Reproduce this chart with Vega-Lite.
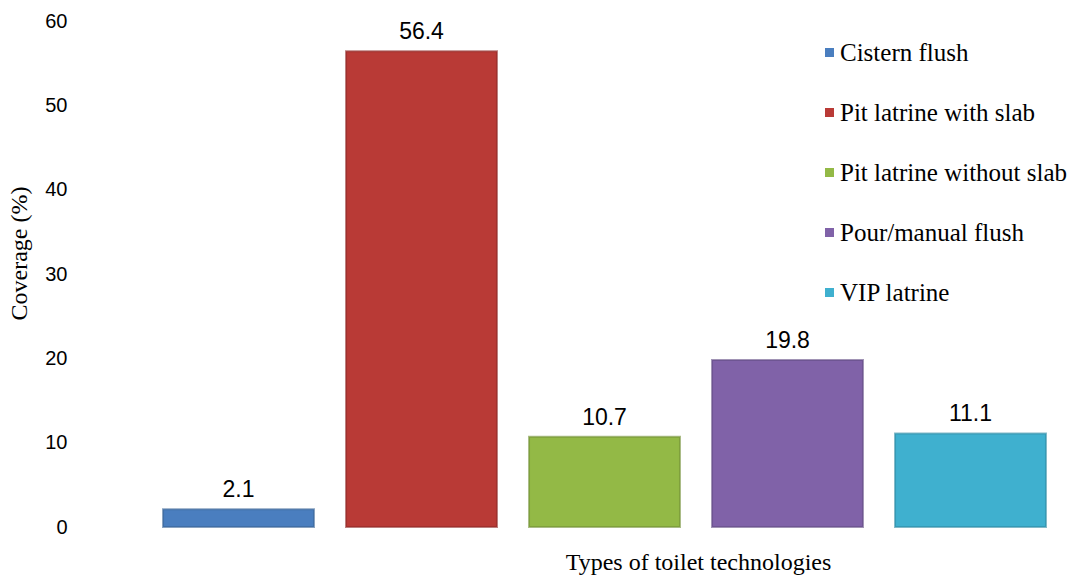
{
  "$schema": "https://vega.github.io/schema/vega-lite/v6.json",
  "autosize": {"type": "none"},
  "padding": {"left": 147, "top": 21, "right": 16, "bottom": 48},
  "width": 915,
  "height": 506,
  "background": "white",
  "config": {"view": {"stroke": null}},
  "data": {
    "values": [
      {"type": "Cistern flush", "coverage": 2.1},
      {"type": "Pit latrine with slab", "coverage": 56.4},
      {"type": "Pit latrine without slab", "coverage": 10.7},
      {"type": "Pour/manual flush", "coverage": 19.8},
      {"type": "VIP latrine", "coverage": 11.1}
    ]
  },
  "encoding": {
    "x": {
      "field": "type", "type": "nominal", "sort": null,
      "scale": {"paddingInner": 0.175, "paddingOuter": 0.0875},
      "axis": {
        "labels": false, "ticks": false, "domain": false,
        "title": "Types of toilet technologies",
        "titleFont": "Liberation Serif", "titleFontSize": 24, "titleFontWeight": "normal",
        "titleColor": "#000", "titleX": 551, "titleY": 35, "titleBaseline": "middle"
      }
    },
    "y": {
      "field": "coverage", "type": "quantitative",
      "scale": {"domain": [0, 60]},
      "axis": {
        "values": [0, 10, 20, 30, 40, 50, 60],
        "grid": false, "ticks": false, "domain": false,
        "offset": 80, "labelPadding": 0,
        "labelFont": "Liberation Sans", "labelFontSize": 20, "labelColor": "#000",
        "title": "Coverage (%)",
        "titleFont": "Liberation Serif", "titleFontSize": 24, "titleFontWeight": "normal",
        "titleColor": "#000", "titlePadding": 13, "titleY": 232
      }
    }
  },
  "layer": [
    {
      "mark": {"type": "bar", "strokeWidth": 2, "strokeOpacity": 0.6},
      "encoding": {
        "color": {
          "field": "type", "type": "nominal", "sort": null,
          "scale": {
            "domain": ["Cistern flush", "Pit latrine with slab", "Pit latrine without slab", "Pour/manual flush", "VIP latrine"],
            "range": ["#4a7ebf", "#b93a36", "#93b946", "#8062a8", "#3fb0cf"]
          },
          "legend": {
            "title": null, "orient": "none", "legendX": 670, "legendY": 19,
            "symbolType": "square", "symbolSize": 81, "symbolStrokeWidth": 0,
            "labelFont": "Liberation Serif", "labelFontSize": 25, "labelColor": "#000",
            "labelOffset": -2, "rowPadding": 34, "labelLimit": 300
          }
        },
        "stroke": {
          "field": "type", "type": "nominal", "sort": null,
          "scale": {
            "domain": ["Cistern flush", "Pit latrine with slab", "Pit latrine without slab", "Pour/manual flush", "VIP latrine"],
            "range": ["#3a6496", "#8f2a28", "#728f36", "#634c84", "#2f8aa3"]
          },
          "legend": null
        }
      }
    },
    {
      "mark": {"type": "text", "baseline": "alphabetic", "dy": -12, "font": "Liberation Sans", "fontSize": 23, "color": "#000"},
      "encoding": {"text": {"field": "coverage", "type": "quantitative", "format": ".1f"}}
    }
  ]
}
